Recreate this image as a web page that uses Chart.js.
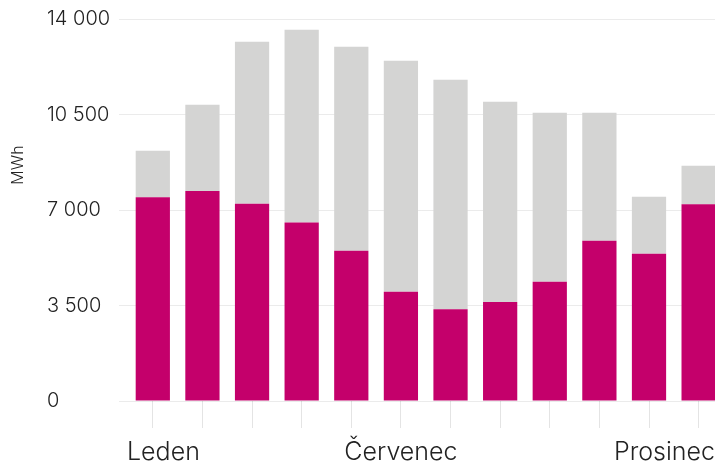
<!DOCTYPE html>
<html lang="cs">
<head>
<meta charset="utf-8">
<script src="https://cdn.jsdelivr.net/npm/chart.js@4.4.0/dist/chart.umd.min.js"></script>
<style>
  html, body { margin: 0; padding: 0; background: #fff; }
  #wrap { width: 715px; height: 461px; }
</style>
</head>
<body>
<div id="wrap"><canvas id="chart" width="715" height="461"></canvas></div>
<script>
// Data
const months = ['Leden', 'Únor', 'Březen', 'Duben', 'Květen', 'Červen',
                'Červenec', 'Srpen', 'Září', 'Říjen', 'Listopad', 'Prosinec'];
// x-axis labels as shown: text and the slot it sits under
const axisLabels = ['Leden', 'Červenec', 'Prosinec'];
const axisLabelSlots = [0, 5, 11];
const lowerPart = [7470, 7700, 7230, 6540, 5510, 4000, 3365, 3630, 4375, 5870, 5400, 7215];
const upperPart = [1700, 3160, 5940, 7070, 7475, 8470, 8410, 7340, 6190, 4695, 2085, 1405];
const yTicks = [0, 3500, 7000, 10500, 14000];
const unitLabel = 'MWh';

const MAGENTA = '#c4006b';
const GREY = '#d4d4d3';
const TEXT = '#222222';
const FONT = 'Inter, "Noto Sans", sans-serif';

function fmt(v) {
    return String(v).replace(/\B(?=(\d{3})+(?!\d))/g, ' ');
}

// draws the unit title and the few month labels (kept inside the canvas)
const labelsPlugin = {
    id: 'labels',
    afterDraw(chart) {
        const { ctx, chartArea } = chart;
        const x = chart.scales.x;
        ctx.save();
        ctx.fillStyle = TEXT;
        ctx.textBaseline = 'middle';
        ctx.textAlign = 'left';

        ctx.font = '300 25px ' + FONT;
        axisLabels.forEach((text, k) => {
            const w = ctx.measureText(text).width;
            let left = x.getPixelForValue(axisLabelSlots[k]) - w / 2;
            left = Math.max(left, chartArea.left - 1);
            left = Math.min(left, chart.width - w);
            ctx.fillText(text, left, 452);
        });

        ctx.font = '300 16px ' + FONT;
        ctx.translate(18, 165);
        ctx.rotate(-Math.PI / 2);
        ctx.textAlign = 'center';
        ctx.fillText(unitLabel, 0, 0);
        ctx.restore();
    }
};

const pts = arr => arr.map((v, i) => ({ x: i, y: v }));

new Chart(document.getElementById('chart'), {
    type: 'bar',
    data: {
        datasets: [
            { data: pts(lowerPart), backgroundColor: MAGENTA, borderWidth: 0,
              barPercentage: 0.69, categoryPercentage: 1 },
            { data: pts(upperPart), backgroundColor: GREY, borderWidth: 0,
              barPercentage: 0.69, categoryPercentage: 1 }
        ]
    },
    options: {
        responsive: false,
        animation: false,
        devicePixelRatio: 1,
        layout: { padding: { left: 47, right: 0, top: 19, bottom: 0 } },
        plugins: { legend: { display: false }, tooltip: { enabled: false } },
        scales: {
            x: {
                type: 'linear',
                stacked: true,
                offset: false,
                min: -0.5,
                max: 11.33,
                afterBuildTicks: s => { s.ticks = months.map((m, i) => ({ value: i })); },
                afterFit: s => { s.height = 60; },
                ticks: { display: false },
                grid: { offset: false, drawOnChartArea: false, drawTicks: true, tickLength: 27, color: '#e4e4e4' },
                border: { display: false }
            },
            y: {
                stacked: true,
                min: 0,
                max: 14000,
                z: 1,
                afterBuildTicks: s => { s.ticks = yTicks.map(v => ({ value: v })); },
                afterFit: s => { s.width = 81; },
                ticks: {
                    crossAlign: 'far',
                    color: TEXT,
                    font: { family: FONT, size: 20, weight: '300' },
                    callback: v => fmt(v)
                },
                grid: { color: 'rgba(0,0,0,0.08)', tickLength: 9, drawTicks: true },
                border: { display: false }
            }
        }
    },
    plugins: [labelsPlugin]
});
</script>
</body>
</html>
